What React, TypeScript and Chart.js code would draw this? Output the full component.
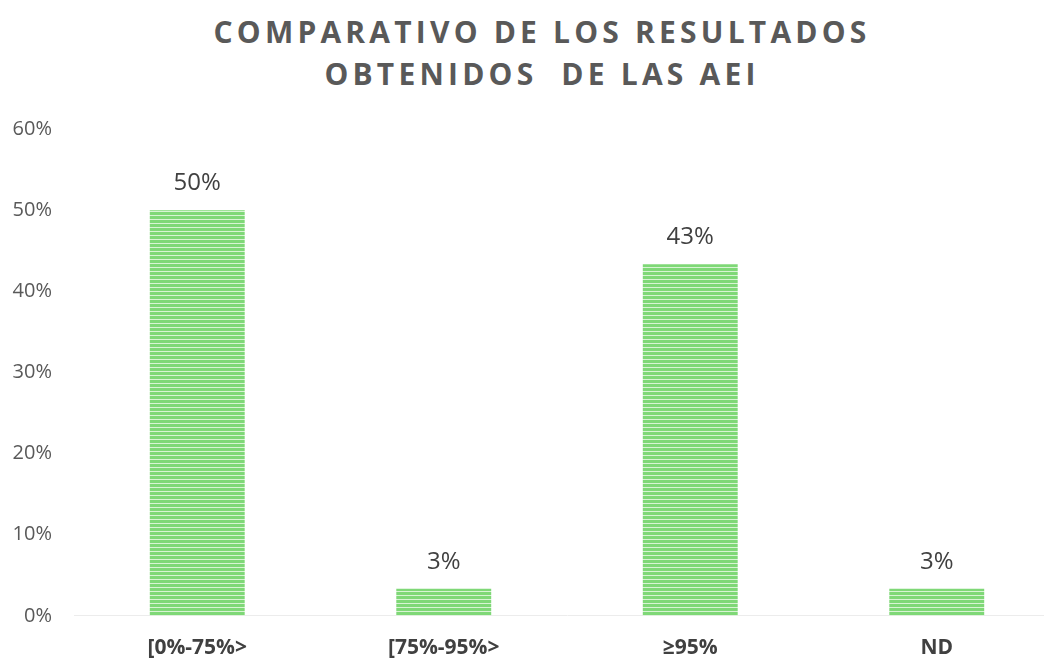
import React, { useEffect, useRef } from "react";
import { Chart, registerables } from "chart.js";

Chart.register(...registerables);

const categories = ["[0%-75%>", "[75%-95%>", "≥95%", "ND"];
const values = [50, 3.33, 43.33, 3.33];
const valueLabels = ["50%", "3%", "43%", "3%"];
const yTicks = [0, 10, 20, 30, 40, 50, 60];
const titleLines = ["COMPARATIVO DE LOS RESULTADOS", "OBTENIDOS  DE LAS AEI"];

function makePattern(): CanvasPattern | string {
  const c = document.createElement("canvas");
  c.width = 8;
  c.height = 4;
  const ctx = c.getContext("2d");
  if (!ctx) return "#84d97c";
  ctx.fillStyle = "#7fd877";
  ctx.fillRect(0, 0, 8, 4);
  ctx.fillStyle = "#d8f4d4";
  ctx.fillRect(0, 3, 8, 1);
  return ctx.createPattern(c, "repeat") || "#84d97c";
}

const valueLabelPlugin = {
  id: "valueLabels",
  afterDatasetsDraw(chart: any) {
    const ctx = chart.ctx;
    const meta = chart.getDatasetMeta(0);
    ctx.save();
    ctx.font = "24px 'Open Sans', sans-serif";
    ctx.fillStyle = "#404040";
    ctx.textAlign = "center";
    ctx.textBaseline = "middle";
    meta.data.forEach((bar: any, i: number) => {
      ctx.fillText(valueLabels[i], bar.x, bar.y - 27);
    });
    ctx.restore();
  },
};

export default function App() {
  const ref = useRef<HTMLCanvasElement>(null);
  useEffect(() => {
    if (!ref.current) return;
    const chart = new Chart(ref.current, {
      type: "bar",
      data: {
        labels: categories,
        datasets: [
          {
            data: values,
            backgroundColor: makePattern() as any,
            borderWidth: 0,
            barPercentage: 0.385,
            categoryPercentage: 1,
          },
        ],
      },
      options: {
        animation: false,
        responsive: false,
        maintainAspectRatio: false,
        layout: { padding: { top: 129, right: 20, left: 0, bottom: 0 } },
        plugins: {
          legend: { display: false },
          tooltip: { enabled: false },
          title: { display: false },
        },
        scales: {
          x: {
            grid: { display: false, drawTicks: false },
            border: { display: true, color: "#ececec", width: 1 },
            ticks: {
              color: "#404040",
              font: { family: "'Open Sans', sans-serif", size: 21, weight: "bold" },
              padding: 20,
            },
          },
          y: {
            min: 0,
            max: 60,
            afterFit: (scale: any) => {
              scale.width = 74;
            },
            afterBuildTicks: (scale: any) => {
              scale.ticks = yTicks.map((v) => ({ value: v }));
            },
            grid: { display: false, drawTicks: false },
            border: { display: false },
            ticks: {
              color: "#595959",
              font: { family: "'Open Sans', sans-serif", size: 20 },
              padding: 22,
              callback: (v: any) => v + "%",
            },
          },
        },
      },
      plugins: [valueLabelPlugin],
    });
    return () => chart.destroy();
  }, []);

  return (
    <div
      style={{
        position: "fixed",
        left: 0,
        top: 0,
        width: 1044,
        height: 659,
        overflow: "hidden",
        background: "#ffffff",
      }}
    >
      <div
        style={{
          position: "absolute",
          left: 0,
          top: 11,
          width: 1084,
          textAlign: "center",
          fontFamily: "'Open Sans', sans-serif",
          fontWeight: "bold",
          fontSize: 30,
          lineHeight: "42px",
          letterSpacing: "4.2px",
          color: "#595959",
          whiteSpace: "pre",
        }}
      >
        {titleLines.join("\n")}
      </div>
      <canvas
        ref={ref}
        width={1080}
        height={681}
        style={{ position: "absolute", left: 0, top: 0 }}
      />
    </div>
  );
}
